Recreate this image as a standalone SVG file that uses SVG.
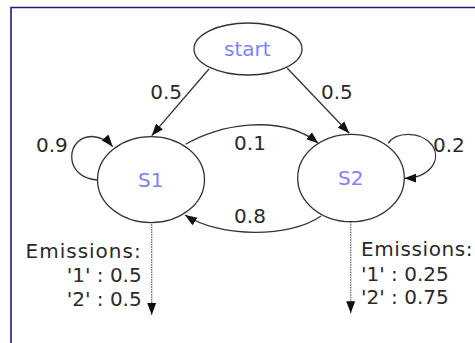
<svg xmlns="http://www.w3.org/2000/svg" width="475" height="343" viewBox="0 0 475 343">
<style>
  .node ellipse { fill: #ffffff; stroke: #333333; stroke-width: 1.3; }
  .nlabel { font-family: "DejaVu Sans", sans-serif; font-size: 20px; fill: #8080ff; text-anchor: middle; }
  .elabel { font-family: "DejaVu Sans", sans-serif; font-size: 20px; fill: #2a2a2a; }
  .edge { fill: none; stroke: #333333; stroke-width: 1.3; marker-end: url(#arrow); }
  .emit { fill: none; stroke: #666666; stroke-width: 1.3; stroke-dasharray: 1.5,1; marker-end: url(#arrow); }
</style>
<defs>
  <marker id="arrow" markerUnits="userSpaceOnUse" markerWidth="13" markerHeight="10" refX="12" refY="5" orient="auto">
    <path d="M0,0.5 L12,5 L0,9.5 z" fill="#111111"/>
  </marker>
</defs>
<rect x="0" y="0" width="475" height="343" fill="#ffffff"/>
<path d="M11,343 L11,7.5 L475,7.5" fill="none" stroke="#1c1c8a" stroke-width="1.6"/>

<g id="connectors">
  <path class="edge" d="M209,69 L151.7,135.7"/>
  <path class="edge" d="M287.3,68.3 L349.3,133.3"/>
  <path class="edge" d="M185.7,144.3 C215,126 280,112 318.3,143.3"/>
  <path class="edge" d="M321,216 C290,238 220,238 185,215"/>
  <path class="edge" d="M97.7,180 C62,178 66,136 92,136.5 C101,137 108,141 112.7,146.7"/>
  <path class="edge" d="M388.3,143.3 C395,132 420,130 432,145 C442,160 430,178 404.3,178.3"/>
  <path class="emit" d="M151.7,224 L151.7,315"/>
  <path class="emit" d="M350.7,221.7 L350.7,313.3"/>
  <text class="elabel" x="182" y="99.3" text-anchor="end">0.5</text>
  <text class="elabel" x="321" y="99.3">0.5</text>
  <text class="elabel" x="250" y="150" text-anchor="middle">0.1</text>
  <text class="elabel" x="250" y="222.7" text-anchor="middle">0.8</text>
  <text class="elabel" x="36" y="152.3">0.9</text>
  <text class="elabel" x="433" y="152.3">0.2</text>
</g>

<g id="start" class="node">
  <ellipse cx="248" cy="49" rx="54" ry="26"/>
  <text class="nlabel" x="247.3" y="56">start</text>
</g>
<g id="S1" class="node">
  <ellipse cx="151" cy="179.7" rx="53.5" ry="43"/>
  <text class="nlabel" x="150.7" y="187.3">S1</text>
</g>
<g id="S2" class="node">
  <ellipse cx="351" cy="178" rx="53.3" ry="43.7"/>
  <text class="nlabel" x="350.7" y="185">S2</text>
</g>

<g id="emissions-S1">
  <text class="elabel" x="141.7" y="257.7" text-anchor="end" letter-spacing="1">Emissions:</text>
  <text class="elabel" x="141.7" y="281.7" text-anchor="end">'1' : 0.5</text>
  <text class="elabel" x="141.7" y="306" text-anchor="end">'2' : 0.5</text>
</g>
<g id="emissions-S2">
  <text class="elabel" x="361" y="256" letter-spacing="0.6">Emissions:</text>
  <text class="elabel" x="361" y="280.7">'1' : 0.25</text>
  <text class="elabel" x="361" y="304">'2' : 0.75</text>
</g>
</svg>
